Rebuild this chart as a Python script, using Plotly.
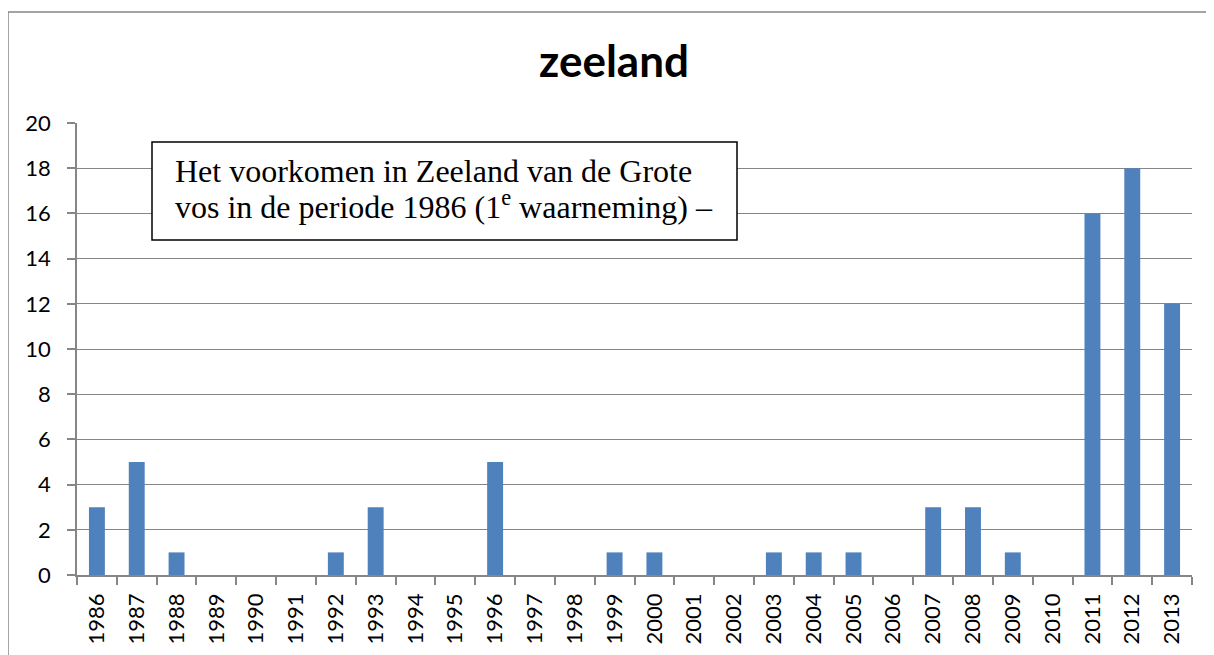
import plotly.graph_objects as go

years = [str(y) for y in range(1986, 2014)]
counts = [3, 5, 1, 0, 0, 0, 1, 3, 0, 0, 5, 0, 0, 1, 1, 0, 0, 1, 1, 1, 0, 3, 3, 1, 0, 16, 18, 12]
y_ticks = list(range(0, 21, 2))
title_text = "zeeland"
box_line1 = "Het voorkomen in Zeeland van de Grote"
box_line2 = "vos in de periode 1986 (1<sup>e</sup> waarneming) –"

OFF = 8  # page body margin
W, H = 1214 - OFF, 655 - OFF
# plot area in page pixel coordinates
PL, PR, PT, PB = 77, 1192, 123, 575
L, R, T, B = PL - OFF, W - (PR - OFF), PT - OFF, H - (PB - OFF)
pw, ph = PR - PL, PB - PT

def px_x(x):
    return (x - PL) / pw

def px_y(y):
    return (PB - y) / ph

grey = "#868686"
fig = go.Figure(go.Bar(x=years, y=counts, marker=dict(color="#4F81BD", line=dict(width=0))))

fig.update_layout(
    width=W, height=H,
    margin=dict(l=L, r=R, t=T, b=B, autoexpand=False),
    paper_bgcolor="white", plot_bgcolor="white",
    bargap=0.6,
    showlegend=False,
    font=dict(family="Lato, Open Sans, sans-serif", color="black", size=22),
    title=dict(text="<b>" + title_text + "</b>", x=(614 - OFF) / W, xanchor="center",
               y=1 - (62 - OFF) / H, yanchor="middle", yref="container",
               font=dict(size=44, family="Lato, Open Sans, sans-serif", color="black")),
    xaxis=dict(type="category", tickangle=-90, showgrid=False,
               showline=True, linecolor=grey, linewidth=1.5,
               ticks="outside", ticklen=8, tickcolor=grey, tickwidth=1.5,
               tickson="boundaries", ticklabelstandoff=8,
               tickfont=dict(size=22), fixedrange=True),
    yaxis=dict(range=[0, 20], tickvals=y_ticks, showgrid=True, gridcolor=grey, gridwidth=1,
               showline=True, linecolor=grey, linewidth=1.5, zeroline=False,
               ticks="outside", ticklen=8, tickcolor=grey, tickwidth=1.5,
               ticklabelstandoff=12,
               tickfont=dict(size=22), fixedrange=True),
    shapes=[
        dict(type="rect", xref="paper", yref="paper",
             x0=px_x(8), x1=px_x(1300), y0=px_y(700), y1=px_y(12),
             line=dict(color=grey, width=1.5), fillcolor="rgba(0,0,0,0)", layer="below"),
        dict(type="rect", xref="paper", yref="paper",
             x0=px_x(152), x1=px_x(737), y0=px_y(240), y1=px_y(142),
             line=dict(color="black", width=1.5), fillcolor="white", layer="above"),
    ],
    annotations=[
        dict(text=box_line1, xref="paper", yref="paper", x=px_x(173), y=px_y(171),
             xanchor="left", yanchor="middle", align="left", showarrow=False,
             font=dict(family="Liberation Serif, Times New Roman, serif", size=32, color="black")),
        dict(text=box_line2, xref="paper", yref="paper", x=px_x(173), y=px_y(205),
             xanchor="left", yanchor="middle", align="left", showarrow=False,
             font=dict(family="Liberation Serif, Times New Roman, serif", size=32, color="black")),
    ],
)

fig.write_html("out.html")
